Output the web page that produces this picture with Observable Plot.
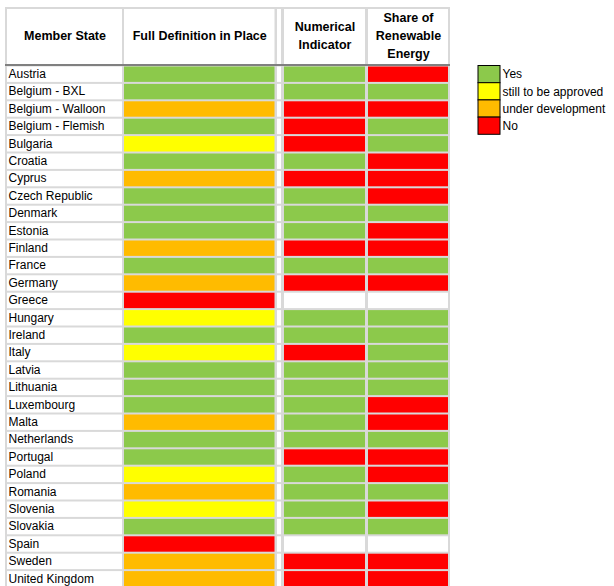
<!DOCTYPE html>
<html><head><meta charset="utf-8">
<script src="https://cdn.jsdelivr.net/npm/d3@7"></script>
<script src="https://cdn.jsdelivr.net/npm/@observablehq/plot@0.6"></script>
<style>html,body{margin:0;padding:0;background:#fff}</style>
</head><body><div id="chart"></div>
<script>
// ---- data ----
const states = ["Austria","Belgium - BXL","Belgium - Walloon","Belgium - Flemish","Bulgaria","Croatia","Cyprus","Czech Republic","Denmark","Estonia","Finland","France","Germany","Greece","Hungary","Ireland","Italy","Latvia","Lithuania","Luxembourg","Malta","Netherlands","Portugal","Poland","Romania","Slovenia","Slovakia","Spain","Sweden","United Kingdom"];
// Y = Yes, S = still to be approved, U = under development, N = No, null = not given
const fullDefinition     = ["Y","Y","U","Y","S","Y","U","Y","Y","Y","U","Y","U","N","S","Y","S","Y","Y","Y","U","Y","Y","S","U","S","Y","N","U","U"];
const numericalIndicator = ["Y","Y","N","N","N","Y","N","Y","Y","Y","N","Y","N",null,"Y","Y","N","Y","Y","Y","Y","Y","N","Y","Y","Y","Y",null,"N","N"];
const shareRenewable     = ["N","Y","N","Y","Y","N","N","N","Y","N","N","Y","N",null,"Y","Y","Y","Y","Y","N","N","Y","N","N","Y","N","Y",null,"N","N"];
const statusKeys   = ["Y","S","U","N"];
const statusLabels = ["Yes","still to be approved","under development","No"];
const statusColors = ["#8cc94b","#ffff00","#ffbb00","#ff0000"];
const headerLabels = ["Member State","Full Definition in Place","","Numerical\nIndicator","Share of\nRenewable\nEnergy"];

// ---- layout ----
const W = 614, H = 586;
const colEdges = [[6,123],[123,275.5],[276,282],[283,366],[367,449]];
const columns = headerLabels.map((h,i)=>({header:h, x1:colEdges[i][0], x2:colEdges[i][1]}));
const valueCols = [fullDefinition, null, numericalIndicator, shareRenewable]; // columns 1..4

const whiteCells = [], colorCells = [];
states.forEach((s,i)=>{
  columns.forEach((c,j)=>{
    const v = j===0 ? null : (valueCols[j-1] ? valueCols[j-1][i] : null);
    const cell = {state:s, x1:c.x1, x2:c.x2, status:v};
    (v ? colorCells : whiteCells).push(cell);
  });
});
const labelRows = states.map(s=>({state:s, x:8}));
const tableBox = [{x1:5, x2:450}];
const legendItems = statusKeys.map((k,i)=>({key:k, label:statusLabels[i], x1:478, x2:500, x:502, i}));
const legTop = 65.5, legStep = 17.2;

const chart = Plot.plot({
  width: W, height: H, margin: 0,
  x: {type:"linear", domain:[0,W], range:[0,W], axis:null},
  y: {type:"band", domain:states, range:[65.5,587.5], padding:0, round:false, axis:null},
  color: {domain:statusKeys, range:statusColors},
  style: {fontFamily:"'Liberation Sans', Arial, sans-serif", fontSize:"12px", background:"white", color:"black"},
  marks: [
    Plot.rect(tableBox, {x1:"x1", x2:"x2", insetTop:7, fill:"#d9d9d9"}),
    Plot.rect(columns, {x1:"x1", x2:"x2", insetLeft:1, insetRight:1, insetTop:9, insetBottom:H-64, fill:"white"}),
    Plot.rect(tableBox, {x1:"x1", x2:"x2", insetTop:64, insetBottom:H-66, fill:"#808080"}),
    Plot.barX(whiteCells, {x1:"x1", x2:"x2", y:"state", insetLeft:1, insetRight:1, insetTop:1, insetBottom:1, fill:"white"}),
    Plot.barX(colorCells, {x1:"x1", x2:"x2", y:"state", insetLeft:1, insetRight:1, insetTop:1, insetBottom:1, fill:"status"}),
    Plot.text(labelRows, {x:"x", y:"state", text:"state", textAnchor:"start", fill:"black", dy:-0.5}),
    Plot.text(columns, {x:d=>(d.x1+d.x2)/2, text:"header", frameAnchor:"top", dy:34, lineAnchor:"middle", lineHeight:1.45, fontWeight:"bold", fontSize:12.5, fill:"black"}),
    ...legendItems.map(d=>Plot.rect([d], {x1:"x1", x2:"x2", insetTop:legTop+legStep*d.i, insetBottom:H-(legTop+legStep*(d.i+1)), fill:"key", stroke:"black", strokeWidth:1})),
    ...legendItems.map(d=>Plot.text([d], {x:"x", text:"label", frameAnchor:"top", dy:legTop+legStep*(d.i+0.5), textAnchor:"start", lineAnchor:"middle", fill:"black"}))
  ]
});
document.getElementById("chart").appendChild(chart);
</script>
</body></html>
